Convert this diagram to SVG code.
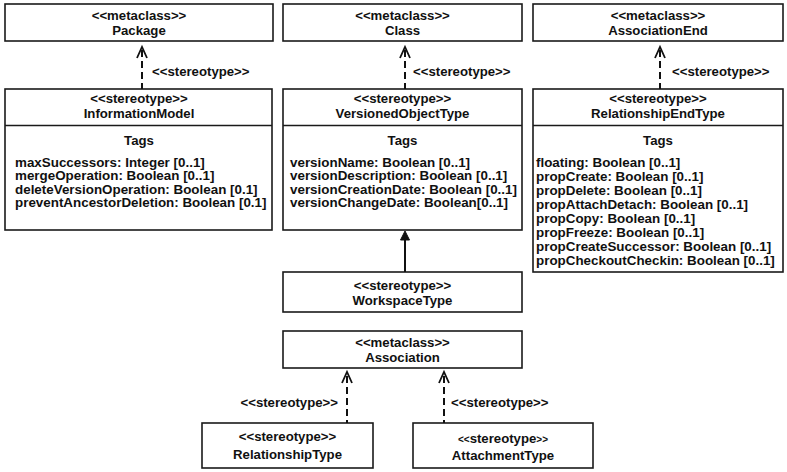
<svg xmlns="http://www.w3.org/2000/svg" width="787" height="472" viewBox="0 0 787 472">
<style>
 .box{fill:#fff;stroke:#1a1a1a;stroke-width:1.6}
 .sep{stroke:#1a1a1a;stroke-width:1.6}
 text{font-family:"Liberation Sans",Arial,sans-serif;font-weight:bold;fill:#111}
 .c{font-size:13.2px;text-anchor:middle}
 .t{font-size:13.4px}
 .lbl{font-size:13.2px}
 .lblr{font-size:13.2px;text-anchor:end}
 .sm{font-size:10px}
 .dash{stroke:#111;stroke-width:2;stroke-dasharray:7 4;fill:none}
 .head{stroke:#111;stroke-width:1.8;fill:none}
 .solid{stroke:#111;stroke-width:2;fill:none}
 .tri{fill:#111;stroke:#111;stroke-width:1}
</style>
<rect width="787" height="472" fill="#fff"/>

<g id="Package">
 <rect class="box" x="5" y="4" width="268" height="37"/>
 <text class="c" x="139" y="20">&lt;&lt;metaclass&gt;&gt;</text>
 <text class="c" x="139" y="35">Package</text>
</g>
<g id="Class">
 <rect class="box" x="283" y="4" width="239" height="37"/>
 <text class="c" x="402.5" y="20">&lt;&lt;metaclass&gt;&gt;</text>
 <text class="c" x="402.5" y="35">Class</text>
</g>
<g id="AssociationEnd">
 <rect class="box" x="533" y="4" width="250" height="37"/>
 <text class="c" x="658" y="20">&lt;&lt;metaclass&gt;&gt;</text>
 <text class="c" x="658" y="35">AssociationEnd</text>
</g>

<g id="InformationModel">
 <rect class="box" x="5" y="89" width="267" height="141"/>
 <line class="sep" x1="5" y1="125.5" x2="272" y2="125.5"/>
 <text class="c" x="139" y="103">&lt;&lt;stereotype&gt;&gt;</text>
 <text class="c" x="139" y="118">InformationModel</text>
 <text class="c" x="139" y="145">Tags</text>
 <text class="t" x="15" y="166.5">maxSuccessors: Integer [0..1]</text>
 <text class="t" x="15" y="180">mergeOperation: Boolean [0..1]</text>
 <text class="t" x="15" y="193.5">deleteVersionOperation: Boolean [0.1]</text>
 <text class="t" x="15" y="207">preventAncestorDeletion: Boolean [0.1]</text>
</g>
<g id="VersionedObjectType">
 <rect class="box" x="283" y="89" width="239" height="141"/>
 <line class="sep" x1="283" y1="125.5" x2="522" y2="125.5"/>
 <text class="c" x="402.5" y="103">&lt;&lt;stereotype&gt;&gt;</text>
 <text class="c" x="402.5" y="118">VersionedObjectType</text>
 <text class="c" x="402.5" y="145">Tags</text>
 <text class="t" x="290" y="166.5">versionName: Boolean [0..1]</text>
 <text class="t" x="290" y="180">versionDescription: Boolean [0..1]</text>
 <text class="t" x="290" y="193.5">versionCreationDate: Boolean [0..1]</text>
 <text class="t" x="290" y="207">versionChangeDate: Boolean[0..1]</text>
</g>
<g id="RelationshipEndType">
 <rect class="box" x="533" y="89" width="250" height="183"/>
 <line class="sep" x1="533" y1="125.5" x2="783" y2="125.5"/>
 <text class="c" x="658" y="103">&lt;&lt;stereotype&gt;&gt;</text>
 <text class="c" x="658" y="118">RelationshipEndType</text>
 <text class="c" x="658" y="145">Tags</text>
 <text class="t" x="536" y="167">floating: Boolean [0..1]</text>
 <text class="t" x="536" y="181">propCreate: Boolean [0..1]</text>
 <text class="t" x="536" y="195">propDelete: Boolean [0..1]</text>
 <text class="t" x="536" y="209">propAttachDetach: Boolean [0..1]</text>
 <text class="t" x="536" y="223">propCopy: Boolean [0..1]</text>
 <text class="t" x="536" y="237">propFreeze: Boolean [0..1]</text>
 <text class="t" x="536" y="251">propCreateSuccessor: Boolean [0..1]</text>
 <text class="t" x="536" y="265">propCheckoutCheckin: Boolean [0..1]</text>
</g>

<g id="WorkspaceType">
 <rect class="box" x="283" y="272" width="239" height="40"/>
 <text class="c" x="402.5" y="290">&lt;&lt;stereotype&gt;&gt;</text>
 <text class="c" x="402.5" y="305">WorkspaceType</text>
</g>
<g id="Association">
 <rect class="box" x="283" y="331" width="239" height="37"/>
 <text class="c" x="402.5" y="347">&lt;&lt;metaclass&gt;&gt;</text>
 <text class="c" x="402.5" y="362">Association</text>
</g>
<g id="RelationshipType">
 <rect class="box" x="202" y="423" width="171" height="45"/>
 <text class="c" x="287.5" y="441">&lt;&lt;stereotype&gt;&gt;</text>
 <text class="c" x="287.5" y="459">RelationshipType</text>
</g>
<g id="AttachmentType">
 <rect class="box" x="413" y="423" width="180" height="45"/>
 <text class="c" x="503" y="443"><tspan class="sm">&lt;&lt;</tspan>stereotype<tspan class="sm">&gt;&gt;</tspan></text>
 <text class="c" x="503" y="460">AttachmentType</text>
</g>

<g id="connectors">
 <line class="dash" x1="142" y1="50" x2="142" y2="89"/>
 <polyline class="head" points="137,58 142,47 147,58"/>
 <text class="lbl" x="152" y="75.5">&lt;&lt;stereotype&gt;&gt;</text>

 <line class="dash" x1="405" y1="50" x2="405" y2="89"/>
 <polyline class="head" points="400,58 405,47 410,58"/>
 <text class="lbl" x="413" y="75.5">&lt;&lt;stereotype&gt;&gt;</text>

 <line class="dash" x1="660" y1="50" x2="660" y2="89"/>
 <polyline class="head" points="655,58 660,47 665,58"/>
 <text class="lbl" x="672" y="75.5">&lt;&lt;stereotype&gt;&gt;</text>

 <line class="solid" x1="405" y1="239" x2="405" y2="272"/>
 <polygon class="tri" points="405,231 400.5,240 409.5,240"/>

 <line class="dash" x1="347" y1="376" x2="347" y2="423"/>
 <polyline class="head" points="342,383 347,372 352,383"/>
 <text class="lblr" x="338" y="406.5">&lt;&lt;stereotype&gt;&gt;</text>

 <line class="dash" x1="444" y1="376" x2="444" y2="423"/>
 <polyline class="head" points="439,383 444,372 449,383"/>
 <text class="lbl" x="451" y="406.5">&lt;&lt;stereotype&gt;&gt;</text>
</g>
</svg>
